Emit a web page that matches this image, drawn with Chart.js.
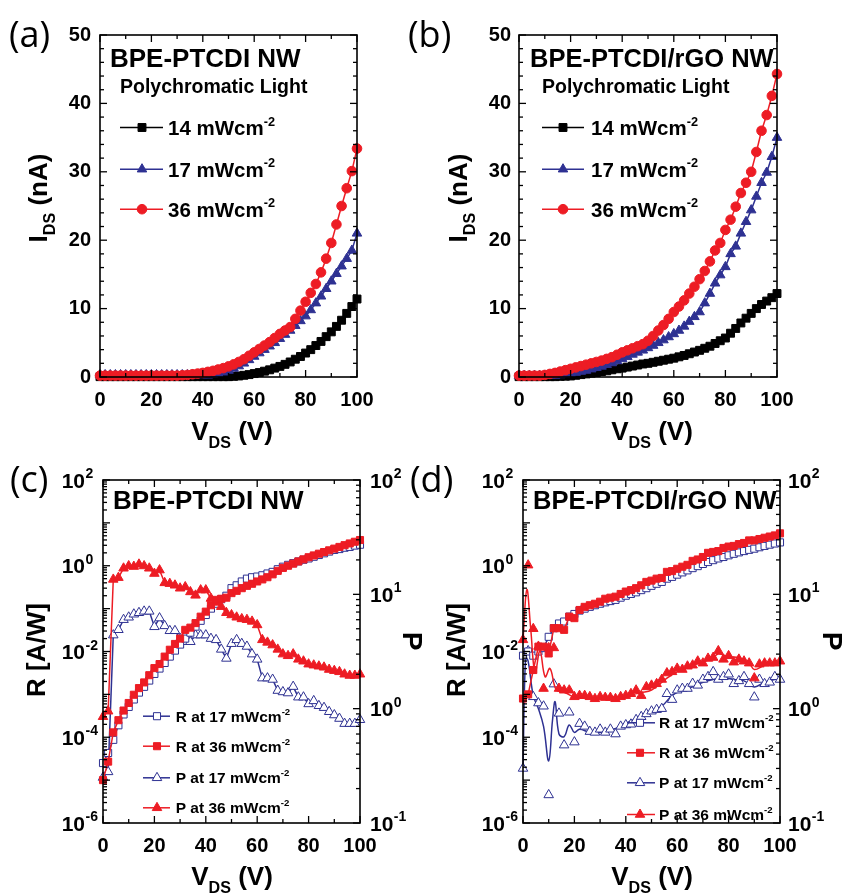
<!DOCTYPE html>
<html>
<head>
<meta charset="utf-8">
<title>BPE-PTCDI nanowire photoresponse</title>
<script src="https://cdn.jsdelivr.net/npm/chart.js@4.4.1/dist/chart.umd.min.js"></script>
<style>
  body { margin: 0; background: #fff; }
  #page { position: relative; width: 845px; height: 893px; overflow: hidden; background: #fff; }
  canvas { position: absolute; }
</style>
</head>
<body>
<div id="page">
  <canvas id="cA" width="422" height="460" style="left:0;top:0;width:422px;height:460px"></canvas>
  <canvas id="cB" width="445" height="460" style="left:400px;top:0;width:445px;height:460px"></canvas>
  <canvas id="cC" width="430" height="453" style="left:0;top:440px;width:430px;height:453px"></canvas>
  <canvas id="cD" width="445" height="453" style="left:400px;top:440px;width:445px;height:453px"></canvas>
</div>
<script>
// drain-source voltage (V), shared by every sweep
const vds = [0,2,4,6,8,10,12,14,16,18,20,22,24,26,28,30,32,34,36,38,40,42,44,46,48,50,
  52,54,56,58,60,62,64,66,68,70,72,74,76,78,80,82,84,86,88,90,92,94,96,98,100];

// (a) BPE-PTCDI NW, I_DS in nA
const aI14 = [0.05,0.05,0.05,0.05,0.05,0.05,0.05,0.05,0.05,0.05,0.05,0.05,0.05,0.05,0.05,0.05,
  0.05,0.05,0.05,0.05,0.05,0.05,0.05,0.05,0.05,0.05,
  0.1,0.15,0.25,0.35,0.5,0.65,0.85,1.05,1.3,1.55,1.85,2.2,2.6,3.0,3.5,4.0,4.6,5.2,5.9,6.6,7.4,8.3,9.3,10.3,11.4];
const aI17 = [0.3,0.3,0.3,0.3,0.3,0.3,0.3,0.3,0.3,0.3,0.3,0.3,0.3,0.3,0.3,0.3,0.3,0.3,0.3,0.3,0.3,
  0.25,0.35,0.5,0.7,0.95,1.25,1.6,2.0,2.5,3.0,3.5,4.0,4.5,5.0,5.6,6.2,6.8,7.5,8.2,8.9,
  9.8,10.8,11.8,12.9,14.0,15.1,16.2,17.3,18.5,21.0];
const aI36 = [0.2,0.2,0.2,0.2,0.2,0.2,0.2,0.2,0.2,0.2,0.2,0.2,0.2,0.2,0.2,0.2,
  0.25,0.3,0.4,0.5,0.6,0.75,0.9,1.1,1.3,1.55,1.85,2.2,2.6,3.1,3.6,4.1,4.6,5.1,5.7,6.3,
  6.8,7.3,8.5,9.7,11.0,12.3,13.6,15.3,17.3,19.6,22.3,25.0,27.6,30.1,33.4];

// (b) BPE-PTCDI/rGO NW, I_DS in nA
const bI14 = [0.05,0.05,0.05,0.05,0.05,0.05,0.05,0.05,
  0.1,0.12,0.15,0.25,0.35,0.45,0.55,0.65,0.8,0.9,1.05,1.2,1.3,1.45,1.6,1.75,1.9,2.0,2.15,2.3,
  2.45,2.6,2.75,2.95,3.15,3.4,3.65,3.9,4.2,4.5,4.9,5.3,5.7,6.4,7.1,7.9,8.6,9.3,10.0,10.6,11.1,11.6,12.2];
const bI17 = [0.2,0.2,0.2,0.2,0.2,0.2,0.2,
  0.22,0.3,0.4,0.5,0.65,0.8,0.95,1.15,1.35,1.55,1.8,2.05,2.35,2.65,2.95,3.3,3.6,3.9,4.25,4.6,
  5.0,5.4,5.85,6.3,6.8,7.4,8.1,8.8,9.5,10.8,12.2,13.7,14.9,16.1,18.0,19.1,21.0,22.7,24.4,26.4,
  28.4,29.9,32.2,35.0];
const bI36 = [0.2,0.2,0.2,0.2,0.2,
  0.3,0.45,0.6,0.8,1.0,1.2,1.4,1.6,1.8,2.0,2.2,2.4,2.65,2.9,3.25,3.6,3.9,4.2,4.5,4.8,
  5.3,6.0,6.8,7.6,8.5,9.5,10.3,11.2,12.2,13.2,14.3,15.5,16.9,18.5,19.6,21.5,23.0,24.9,26.9,28.4,
  30.0,32.9,36.0,38.3,41.1,44.3];

// (c) BPE-PTCDI NW: responsivity R (A/W) and photosensitivity P
const cR17 = [2.5e-5,4.3e-5,8.7e-5,1.9e-4,3.4e-4,5.1e-4,7.6e-4,1.1e-3,1.5e-3,2.1e-3,
  3.0e-3,4.0e-3,5.4e-3,7.6e-3,0.0105,0.0145,0.020,0.0275,0.038,0.052,
  0.071,0.10,0.13,0.166,0.20,0.30,0.35,0.43,0.50,0.54,
  0.56,0.60,0.66,0.72,0.83,0.95,1.05,1.15,1.26,1.38,
  1.48,1.62,1.78,1.95,2.14,2.34,2.45,2.63,2.75,2.95,3.09];
const cR36 = [1e-5,2.7e-5,1.3e-4,2.5e-4,4.2e-4,6.3e-4,9.8e-4,1.4e-3,1.9e-3,2.8e-3,
  4.1e-3,5.1e-3,7.6e-3,0.011,0.015,0.020,0.032,0.036,0.046,0.065,
  0.085,0.12,0.16,0.17,0.18,0.23,0.26,0.30,0.34,0.38,
  0.43,0.48,0.54,0.63,0.76,0.89,1.0,1.12,1.26,1.41,
  1.58,1.74,1.91,2.09,2.29,2.51,2.75,3.02,3.31,3.63,3.98];
const cP17 = [0.25,0.28,4.4,4.9,6.0,6.3,6.7,6.9,7.1,7.1,
  5.2,6.2,5.3,4.8,4.8,4.1,3.85,3.85,4.4,4.4,
  4.4,4.1,4.0,3.3,2.75,3.7,4.0,3.7,3.5,3.0,
  2.7,1.85,1.85,1.8,1.44,1.4,1.37,1.56,1.26,1.26,
  1.1,1.17,1.06,1.02,0.94,0.88,0.82,0.74,0.74,0.74,0.8];
const cP36 = [0.85,0.95,13.5,14,16.9,17.7,17.5,18.3,17.7,16.9,
  15.2,16.3,12.6,12.4,12.0,11.3,11.6,10.5,9.8,10.9,
  10.9,9.2,8.5,7.8,6.9,6.6,6.3,6.1,6.0,5.8,
  5.4,4.0,3.8,3.6,3.3,3.0,2.9,3.0,2.7,2.6,
  2.45,2.4,2.35,2.3,2.2,2.15,2.1,2.0,1.95,1.95,2.0];

// (d) BPE-PTCDI/rGO NW: responsivity R (A/W) and photosensitivity P
const dR17 = [0.008,0.01,0.008,0.01,0.012,0.022,0.035,0.045,0.05,0.065,
  0.075,0.09,0.1,0.11,0.12,0.13,0.14,0.15,0.16,0.18,
  0.2,0.22,0.24,0.27,0.3,0.34,0.38,0.42,0.5,0.55,
  0.62,0.7,0.78,0.88,0.98,1.1,1.22,1.35,1.48,1.6,
  1.75,1.9,2.05,2.2,2.35,2.5,2.7,2.9,3.1,3.3,3.5];
const dR36 = [0.0008,0.001,0.0037,0.013,0.013,0.009,0.035,0.035,0.032,0.065,
  0.06,0.093,0.11,0.12,0.13,0.145,0.17,0.18,0.19,0.22,
  0.25,0.27,0.3,0.35,0.42,0.45,0.5,0.52,0.72,0.75,
  0.85,0.95,1.05,1.3,1.4,1.6,2.0,2.1,2.2,2.6,
  2.8,2.9,3.2,3.4,3.9,3.9,4.2,4.5,4.8,5.1,5.7];
const dP17 = [0.3,3.2,1.27,1.12,1.05,0.176,1.64,0.91,0.48,0.93,
  0.51,0.74,0.7,0.63,0.62,0.66,0.62,0.66,0.6,0.7,
  0.72,0.73,0.8,0.85,0.9,0.95,0.98,1.0,1.35,1.2,
  1.45,1.5,1.5,1.66,1.6,1.8,1.9,2.1,1.8,1.9,
  2.0,1.65,1.75,1.9,1.65,1.26,1.8,1.65,1.7,1.9,1.8];
const dP36 = [4.0,18,5.0,3.5,1.5,3.4,3.4,1.5,1.45,1.45,
  1.27,1.3,1.3,1.27,1.22,1.27,1.25,1.25,1.22,1.27,
  1.3,1.35,1.45,1.3,1.55,1.6,1.65,1.8,2.05,2.1,
  2.25,2.2,2.35,2.4,2.6,2.5,2.75,2.8,3.2,2.7,
  2.9,2.55,2.7,2.6,2.5,1.85,2.45,2.5,2.5,2.5,2.6];
// smoothed P traces in (d)
const dP17CurveV = [0,1,2,4,6,8,10,11.5,12.5,14,16,18,20,22,26,30,34,38,42,46,50,54,58,62,66,70,74,78,82,86,90,94,100];
const dP17Curve = [0.3,2.8,2.6,1.3,1.0,0.7,0.35,0.8,1.15,0.6,0.57,0.72,0.62,0.66,0.62,0.62,0.65,0.7,0.78,0.85,
  0.95,1.05,1.3,1.45,1.55,1.7,1.8,1.85,1.8,1.75,1.55,1.7,1.85];
const dP36CurveV = [0,1.5,3,4.7,6.6,8.6,10.5,13,16,20,30,40,46,50,56,60,66,70,74,76,80,84,88,90,94,100];
const dP36Curve = [4.0,11,5,2.05,3.2,1.9,2.25,1.45,1.4,1.27,1.25,1.3,1.38,1.45,1.85,2.1,2.4,2.55,2.8,3.0,
  2.85,2.8,2.5,2.2,2.4,2.55];

// decade labels on the log axes (exponents)
const rExp = [-6, -4, -2, 0, 2];
const pExp = [-1, 0, 1, 2];

const RED = '#ed1c24';
const BLUE = '#2e3192';
const BLACK = '#000000';
const FONT = "'Liberation Sans', Arial, Helvetica, sans-serif";
const LETTER_FONT = "'Open Sans', 'Noto Sans', sans-serif";

function pts(ys, xs) {
  xs = xs || vds;
  return ys.map((y, i) => ({ x: xs[i], y: y }));
}

function series(ys, color, style, extra) {
  return Object.assign({
    data: pts(ys),
    borderColor: color,
    borderWidth: 1.5,
    pointStyle: style,
    pointRadius: 5,
    pointBackgroundColor: color,
    pointBorderColor: color,
    pointBorderWidth: 1,
    tension: 0,
    clip: false
  }, extra || {});
}

// text with sub/superscript pieces, y is the baseline
function rich(ctx, parts, x, y, size, align) {
  const fontOf = k => 'bold ' + (k ? size * 0.62 : size) + 'px ' + FONT;
  let w = 0;
  parts.forEach(p => { ctx.font = fontOf(p[1]); w += ctx.measureText(p[0]).width; });
  let cx = align === 'center' ? x - w / 2 : align === 'right' ? x - w : x;
  ctx.textAlign = 'left';
  ctx.textBaseline = 'alphabetic';
  parts.forEach(p => {
    ctx.font = fontOf(p[1]);
    const dy = p[1] === 'sub' ? size * 0.32 : p[1] === 'sup' ? -size * 0.45 : 0;
    ctx.fillText(p[0], cx, y + dy);
    cx += ctx.measureText(p[0]).width;
  });
}

function tick(ctx, x1, y1, x2, y2) {
  ctx.beginPath(); ctx.moveTo(x1, y1); ctx.lineTo(x2, y2); ctx.stroke();
}

function logTicks(ctx, scale, x0, dir) {
  const e0 = Math.round(Math.log10(scale.min)), e1 = Math.round(Math.log10(scale.max));
  for (let e = e0; e <= e1; e++) {
    for (let k = 1; k < 10; k++) {
      if (e === e1 && k > 1) break;
      const py = scale.getPixelForValue(k * Math.pow(10, e));
      tick(ctx, x0, py, x0 + dir * (k === 1 ? 7 : 4), py);
    }
  }
}

function logLabels(ctx, scale, exps, x, side) {
  exps.forEach(e => {
    const py = scale.getPixelForValue(Math.pow(10, e));
    const base = py + 21 * 0.36;
    ctx.font = 'bold 21px ' + FONT;
    ctx.textBaseline = 'alphabetic';
    const w = ctx.measureText('10').width;
    const x10 = side === 'left' ? x - w : x;
    ctx.textAlign = 'left';
    ctx.fillText('10', x10, base);
    ctx.font = 'bold 14px ' + FONT;
    ctx.fillText(String(e), x10 + w + 0.5, base - 9.5);
  });
}

const panels = {
  cA: {
    letter: ['(a)', 9, 47],
    texts: [
      { parts: [['BPE-PTCDI NW', '']], x: 110, y: 67, size: 26 },
      { parts: [['Polychromatic Light', '']], x: 120, y: 93, size: 19.5 }
    ],
    xTitle: { parts: [['V', ''], ['DS', 'sub'], [' (V)', '']], x: 232, y: 440 },
    yTitle: { parts: [['I', ''], ['DS', 'sub'], [' (nA)', '']], x: 47, y: 198 },
    legend: { x1: 120, x2: 163, xm: 142, xt: 168, size: 20.5, lift: 7.5,
      rows: [
        { ds: 2, y: 135, parts: [['14 mWcm', ''], ['-2', 'sup']] },
        { ds: 1, y: 176.7, parts: [['17 mWcm', ''], ['-2', 'sup']] },
        { ds: 0, y: 216.7, parts: [['36 mWcm', ''], ['-2', 'sup']] }
      ] }
  },
  cB: {
    letter: ['(b)', 8, 47],
    texts: [
      { parts: [['BPE-PTCDI/rGO NW', '']], x: 130, y: 67, size: 25.5 },
      { parts: [['Polychromatic Light', '']], x: 142, y: 93, size: 19.5 }
    ],
    xTitle: { parts: [['V', ''], ['DS', 'sub'], [' (V)', '']], x: 252, y: 440 },
    yTitle: { parts: [['I', ''], ['DS', 'sub'], [' (nA)', '']], x: 67, y: 198 },
    legend: { x1: 142, x2: 184, xm: 163, xt: 191, size: 20.5, lift: 7.5,
      rows: [
        { ds: 2, y: 135, parts: [['14 mWcm', ''], ['-2', 'sup']] },
        { ds: 1, y: 176.7, parts: [['17 mWcm', ''], ['-2', 'sup']] },
        { ds: 0, y: 216.7, parts: [['36 mWcm', ''], ['-2', 'sup']] }
      ] }
  },
  cC: {
    log: true, rLabelX: 85, pLabelX: 370,
    letter: ['(c)', 10, 51.7],
    texts: [{ parts: [['BPE-PTCDI NW', '']], x: 113, y: 69, size: 26 }],
    xTitle: { parts: [['V', ''], ['DS', 'sub'], [' (V)', '']], x: 232, y: 445 },
    yTitle: { parts: [['R [A/W]', '']], x: 45, y: 210 },
    y2Title: { parts: [['P', '']], x: 403, y: 201 },
    legend: { x1: 143, x2: 170, xm: 157, xt: 175.7, size: 15.5, lift: 5.5,
      rows: [
        { ds: 2, y: 281.7, parts: [['R at 17 mWcm', ''], ['-2', 'sup']] },
        { ds: 0, y: 311.7, parts: [['R at 36 mWcm', ''], ['-2', 'sup']] },
        { ds: 3, y: 343.3, parts: [['P at 17 mWcm', ''], ['-2', 'sup']] },
        { ds: 1, y: 373.3, parts: [['P at 36 mWcm', ''], ['-2', 'sup']] }
      ] }
  },
  cD: {
    log: true, rLabelX: 105, pLabelX: 388,
    letter: ['(d)', 10, 51.7],
    texts: [{ parts: [['BPE-PTCDI/rGO NW', '']], x: 133, y: 69, size: 25.5 }],
    xTitle: { parts: [['V', ''], ['DS', 'sub'], [' (V)', '']], x: 252, y: 445 },
    yTitle: { parts: [['R [A/W]', '']], x: 65, y: 210 },
    y2Title: { parts: [['P', '']], x: 423, y: 201 },
    legend: { x1: 227, x2: 255, xm: 240, xt: 259, size: 15.5, lift: 5.5,
      rows: [
        { ds: 3, y: 288.3, parts: [['R at 17 mWcm', ''], ['-2', 'sup']] },
        { ds: 0, y: 318.3, parts: [['R at 36 mWcm', ''], ['-2', 'sup']] },
        { ds: 4, line: 5, y: 348.3, parts: [['P at 17 mWcm', ''], ['-2', 'sup']] },
        { ds: 1, line: 2, y: 380, parts: [['P at 36 mWcm', ''], ['-2', 'sup']] }
      ] }
  }
};

// frame, inward ticks, titles and the in-plot legend
const deco = {
  id: 'deco',
  afterDraw(chart) {
    const cfg = panels[chart.canvas.id];
    const ctx = chart.ctx;
    const a = chart.chartArea;
    const sx = chart.scales.x;
    ctx.save();
    ctx.strokeStyle = '#000';
    ctx.lineWidth = 1.6;
    ctx.strokeRect(a.left, a.top, a.right - a.left, a.bottom - a.top);
    ctx.lineWidth = 1.3;
    for (let v = 0; v <= 100; v += 10) {
      const px = sx.getPixelForValue(v);
      const len = v % 20 === 0 ? 7 : 4;
      tick(ctx, px, a.bottom, px, a.bottom - len);
      tick(ctx, px, a.top, px, a.top + len);
    }
    ctx.fillStyle = '#000';
    if (cfg.log) {
      logTicks(ctx, chart.scales.y, a.left, 1);
      logTicks(ctx, chart.scales.y2, a.right, -1);
      logLabels(ctx, chart.scales.y, rExp, cfg.rLabelX, 'left');
      logLabels(ctx, chart.scales.y2, pExp, cfg.pLabelX, 'right');
    } else {
      const sy = chart.scales.y;
      for (let v = 0; v <= 50; v += 2) {
        const py = sy.getPixelForValue(v);
        const len = v % 10 === 0 ? 7 : 4;
        tick(ctx, a.left, py, a.left + len, py);
        tick(ctx, a.right, py, a.right - len, py);
      }
    }

    // panel letter
    ctx.font = '36px ' + LETTER_FONT;
    ctx.textAlign = 'left';
    ctx.textBaseline = 'alphabetic';
    ctx.fillText(cfg.letter[0], cfg.letter[1], cfg.letter[2]);

    cfg.texts.forEach(t => rich(ctx, t.parts, t.x, t.y, t.size, 'left'));
    rich(ctx, cfg.xTitle.parts, cfg.xTitle.x, cfg.xTitle.y, 26, 'center');

    ctx.save();
    ctx.translate(cfg.yTitle.x, cfg.yTitle.y);
    ctx.rotate(-Math.PI / 2);
    rich(ctx, cfg.yTitle.parts, 0, 0, 26, 'center');
    ctx.restore();

    if (cfg.y2Title) {
      ctx.save();
      ctx.translate(cfg.y2Title.x, cfg.y2Title.y);
      ctx.rotate(Math.PI / 2);
      rich(ctx, cfg.y2Title.parts, 0, 0, 28, 'center');
      ctx.restore();
    }

    const lg = cfg.legend;
    lg.rows.forEach(r => {
      const mk = chart.data.datasets[r.ds];
      const ln = chart.data.datasets[r.line !== undefined ? r.line : r.ds];
      const yl = r.y - lg.lift;
      ctx.strokeStyle = ln.borderColor;
      ctx.lineWidth = ln.borderWidth;
      tick(ctx, lg.x1, yl, lg.x2, yl);
      ctx.fillStyle = mk.pointBackgroundColor;
      ctx.strokeStyle = mk.pointBorderColor;
      ctx.lineWidth = mk.pointBorderWidth;
      Chart.helpers.drawPoint(ctx, {
        pointStyle: mk.pointStyle, radius: mk.pointRadius, rotation: 0,
        borderWidth: mk.pointBorderWidth
      }, lg.xm, yl);
      ctx.fillStyle = '#000';
      rich(ctx, r.parts, lg.xt, r.y, lg.size, 'left');
    });
    ctx.restore();
  }
};

const tickFont = { family: FONT, size: 20, weight: 'bold' };
const noGrid = { display: false, drawTicks: false };

function xAxis(h) {
  return {
    type: 'linear', min: 0, max: 100,
    grid: noGrid, border: { display: false },
    ticks: { stepSize: 20, color: '#000', font: tickFont, padding: 11, maxRotation: 0, autoSkip: false },
    afterFit: s => { s.height = h; }
  };
}

function ivPanel(id, box, sets) {
  return new Chart(document.getElementById(id), {
    type: 'line',
    data: { datasets: sets },
    options: {
      responsive: false, animation: false, devicePixelRatio: 1,
      layout: { padding: { top: box.top, right: box.right, left: 0, bottom: 0 } },
      plugins: { legend: { display: false }, tooltip: { enabled: false } },
      scales: {
        x: xAxis(box.xh),
        y: {
          type: 'linear', min: 0, max: 50,
          grid: noGrid, border: { display: false },
          ticks: { stepSize: 10, color: '#000', font: tickFont, padding: box.ypad },
          afterFit: s => { s.width = box.yw; }
        }
      }
    },
    plugins: [deco]
  });
}

function rpPanel(id, box, sets) {
  return new Chart(document.getElementById(id), {
    type: 'line',
    data: { datasets: sets },
    options: {
      responsive: false, animation: false, devicePixelRatio: 1,
      layout: { padding: { top: box.top, right: 0, left: 0, bottom: 0 } },
      plugins: { legend: { display: false }, tooltip: { enabled: false } },
      scales: {
        x: xAxis(box.xh),
        y: {
          type: 'logarithmic', position: 'left', min: 1e-6, max: 100,
          grid: noGrid, border: { display: false }, ticks: { display: false },
          afterFit: s => { s.width = box.yw; }
        },
        y2: {
          type: 'logarithmic', position: 'right', min: 0.1, max: 100,
          grid: noGrid, border: { display: false }, ticks: { display: false },
          afterFit: s => { s.width = box.y2w; }
        }
      }
    },
    plugins: [deco]
  });
}

// (a)
ivPanel('cA', { top: 35, right: 65, xh: 83, yw: 100, ypad: 9 }, [
  series(aI36, RED, 'circle', { pointRadius: 4.8 }),
  series(aI17, BLUE, 'triangle', { pointRadius: 5.5 }),
  series(aI14, BLACK, 'rect', { pointRadius: 5.6 })
]);

// (b)
ivPanel('cB', { top: 35, right: 68, xh: 83, yw: 119, ypad: 8 }, [
  series(bI36, RED, 'circle', { pointRadius: 4.8 }),
  series(bI17, BLUE, 'triangle', { pointRadius: 5.5 }),
  series(bI14, BLACK, 'rect', { pointRadius: 5.6 })
]);

// (c)
rpPanel('cC', { top: 40, xh: 70, yw: 103, y2w: 70 }, [
  series(cR36, RED, 'rect', { pointRadius: 5, yAxisID: 'y' }),
  series(cP36, RED, 'triangle', { pointRadius: 5.5, yAxisID: 'y2' }),
  series(cR17, BLUE, 'rect', { pointRadius: 5, pointBackgroundColor: '#fff', yAxisID: 'y' }),
  series(cP17, BLUE, 'triangle', { pointRadius: 5.5, pointBackgroundColor: '#fff', yAxisID: 'y2' })
]);

// (d)
rpPanel('cD', { top: 40, xh: 70, yw: 123, y2w: 65 }, [
  series(dR36, RED, 'rect', { pointRadius: 5, yAxisID: 'y' }),
  series(dP36, RED, 'triangle', { pointRadius: 5.5, showLine: false, yAxisID: 'y2' }),
  series(dP36Curve, RED, false, { data: pts(dP36Curve, dP36CurveV), pointRadius: 0, tension: 0.4, yAxisID: 'y2' }),
  series(dR17, BLUE, 'rect', { pointRadius: 5, pointBackgroundColor: '#fff', yAxisID: 'y' }),
  series(dP17, BLUE, 'triangle', { pointRadius: 5.5, pointBackgroundColor: '#fff', showLine: false, yAxisID: 'y2' }),
  series(dP17Curve, BLUE, false, { data: pts(dP17Curve, dP17CurveV), pointRadius: 0, tension: 0.4, yAxisID: 'y2' })
]);
</script>
</body>
</html>
